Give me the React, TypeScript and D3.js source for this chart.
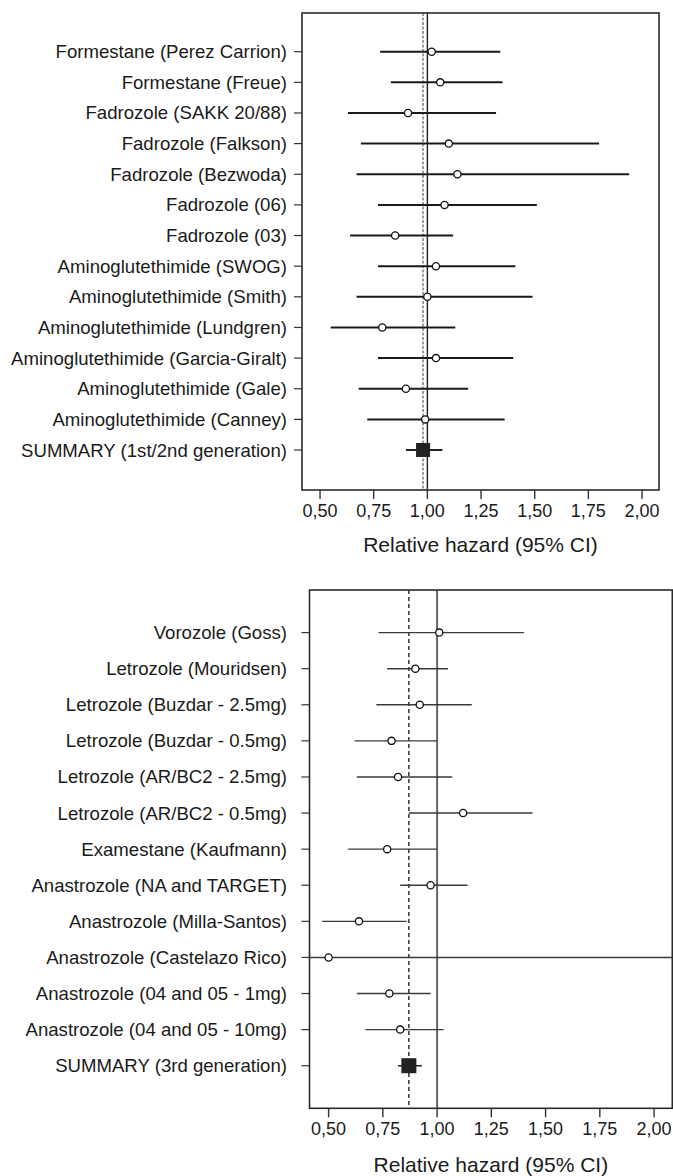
import React from 'react';
import * as d3 from 'd3';

// 1st / 2nd generation aromatase inhibitors
const earlyLabels = [
  'Formestane (Perez Carrion)',
  'Formestane (Freue)',
  'Fadrozole (SAKK 20/88)',
  'Fadrozole (Falkson)',
  'Fadrozole (Bezwoda)',
  'Fadrozole (06)',
  'Fadrozole (03)',
  'Aminoglutethimide (SWOG)',
  'Aminoglutethimide (Smith)',
  'Aminoglutethimide (Lundgren)',
  'Aminoglutethimide (Garcia-Giralt)',
  'Aminoglutethimide (Gale)',
  'Aminoglutethimide (Canney)',
];
const earlyEst = [1.02, 1.06, 0.91, 1.1, 1.14, 1.08, 0.85, 1.04, 1.0, 0.79, 1.04, 0.9, 0.99];
const earlyLo = [0.78, 0.83, 0.63, 0.69, 0.67, 0.77, 0.64, 0.77, 0.67, 0.55, 0.77, 0.68, 0.72];
const earlyHi = [1.34, 1.35, 1.32, 1.8, 1.94, 1.51, 1.12, 1.41, 1.49, 1.13, 1.4, 1.19, 1.36];
const earlySummary = { label: 'SUMMARY (1st/2nd generation)', est: 0.98, lo: 0.9, hi: 1.07 };

// 3rd generation
const thirdLabels = [
  'Vorozole (Goss)',
  'Letrozole (Mouridsen)',
  'Letrozole (Buzdar - 2.5mg)',
  'Letrozole (Buzdar - 0.5mg)',
  'Letrozole (AR/BC2 - 2.5mg)',
  'Letrozole (AR/BC2 - 0.5mg)',
  'Examestane (Kaufmann)',
  'Anastrozole (NA and TARGET)',
  'Anastrozole (Milla-Santos)',
  'Anastrozole (Castelazo Rico)',
  'Anastrozole (04 and 05 - 1mg)',
  'Anastrozole (04 and 05 - 10mg)',
];
const thirdEst = [1.01, 0.9, 0.92, 0.79, 0.82, 1.12, 0.77, 0.97, 0.64, 0.5, 0.78, 0.83];
const thirdLo = [0.73, 0.77, 0.72, 0.62, 0.63, 0.87, 0.59, 0.83, 0.47, 0.3, 0.63, 0.67];
const thirdHi = [1.4, 1.05, 1.16, 1.0, 1.07, 1.44, 1.0, 1.14, 0.86, 2.5, 0.97, 1.03];
const thirdSummary = { label: 'SUMMARY (3rd generation)', est: 0.87, lo: 0.82, hi: 0.93 };

const xTicks = [0.5, 0.75, 1.0, 1.25, 1.5, 1.75, 2.0];
const axisTitle = 'Relative hazard (95% CI)';

const FONT = '"Liberation Sans", Arial, sans-serif';
const fmt = (v: number) => v.toFixed(2).replace('.', ',');

type PanelProps = {
  id: string;
  labels: string[];
  est: number[];
  lo: number[];
  hi: number[];
  summary: { label: string; est: number; lo: number; hi: number };
  left: number;
  right: number;
  top: number;
  bottom: number;
  xDomain: [number, number];
  pad: [number, number];
  sqSize: number;
  ciWidth: number;
  titleGap: number;
  variant: 'early' | 'third';
};

const Panel = (p: PanelProps) => {
  const n = p.labels.length + 1;
  const x = d3.scaleLinear().domain(p.xDomain).range([p.left, p.right]);
  const y = d3.scaleLinear().domain([-p.pad[0], n - 1 + p.pad[1]]).range([p.top, p.bottom]);
  const rows = p.labels.map((l, i) => ({ label: l, est: p.est[i], lo: p.lo[i], hi: p.hi[i] }));
  const allLabels = [...p.labels, p.summary.label];
  const early = p.variant === 'early';

  return (
    <g>
      <defs>
        <clipPath id={`clip-${p.id}`}>
          <rect x={p.left} y={p.top} width={p.right - p.left} height={p.bottom - p.top} />
        </clipPath>
      </defs>

      {/* reference lines */}
      <line x1={x(1)} x2={x(1)} y1={p.top} y2={p.bottom}
        stroke={early ? '#222' : '#666'} strokeWidth={early ? 1.4 : 2} />
      <line x1={x(p.summary.est)} x2={x(p.summary.est)} y1={p.top} y2={p.bottom}
        stroke={early ? '#888' : '#111'} strokeWidth={early ? 1.6 : 1.3}
        strokeDasharray={early ? '3,1.5' : '4,3'} />

      {/* study CIs */}
      <g clipPath={`url(#clip-${p.id})`}>
        {rows.map((r, i) => (
          <line key={i} x1={x(r.lo)} x2={x(r.hi)} y1={y(i)} y2={y(i)}
            stroke={early ? '#1a1a1a' : '#3a3a3a'} strokeWidth={p.ciWidth} />
        ))}
        <line x1={x(p.summary.lo)} x2={x(p.summary.hi)} y1={y(n - 1)} y2={y(n - 1)}
          stroke="#222" strokeWidth={p.ciWidth} />
      </g>
      {rows.map((r, i) => (
        <circle key={i} cx={x(r.est)} cy={y(i)} r={3.6} fill="#fff" stroke="#111" strokeWidth={1.3} />
      ))}
      <rect x={x(p.summary.est) - p.sqSize / 2} y={y(n - 1) - p.sqSize / 2}
        width={p.sqSize} height={p.sqSize} fill="#222" />

      {/* frame */}
      <rect x={p.left} y={p.top} width={p.right - p.left} height={p.bottom - p.top}
        fill="none" stroke="#2a2a2a" strokeWidth={1.6} />

      {/* y ticks and labels */}
      {allLabels.map((l, i) => (
        <g key={i}>
          <line x1={p.left - 8} x2={p.left} y1={y(i)} y2={y(i)} stroke="#333" strokeWidth={1.2} />
          <text x={287} y={y(i)} dy="0.35em" textAnchor="end" fontSize={18.6} fill="#1a1a1a">{l}</text>
        </g>
      ))}

      {/* x ticks */}
      {xTicks.map((t) => (
        <g key={t}>
          <line x1={x(t)} x2={x(t)} y1={p.bottom} y2={p.bottom + 9} stroke="#333" strokeWidth={1.4} />
          <text x={x(t)} y={p.bottom + 27} textAnchor="middle" fontSize={18} fill="#1a1a1a">{fmt(t)}</text>
        </g>
      ))}
      <text x={(p.left + p.right) / 2} y={p.bottom + p.titleGap} textAnchor="middle" fontSize={21} fill="#1a1a1a">
        {axisTitle}
      </text>
    </g>
  );
};

export default function App() {
  return (
    <svg width={673} height={1176} style={{ position: 'absolute', left: 0, top: 0, background: '#fff' }}
      fontFamily={FONT}>
      <Panel id="early" labels={earlyLabels} est={earlyEst} lo={earlyLo} hi={earlyHi}
        summary={earlySummary} left={302} right={659} top={13} bottom={490}
        xDomain={[0.416, 2.079]} pad={[1.263, 1.305]} sqSize={14} ciWidth={2} titleGap={62} variant="early" />
      <Panel id="third" labels={thirdLabels} est={thirdEst} lo={thirdLo} hi={thirdHi}
        summary={thirdSummary} left={309.5} right={672.3} top={590} bottom={1108.3}
        xDomain={[0.412, 2.084]} pad={[1.18, 1.18]} sqSize={15} ciWidth={1.4} titleGap={64} variant="third" />
    </svg>
  );
}
